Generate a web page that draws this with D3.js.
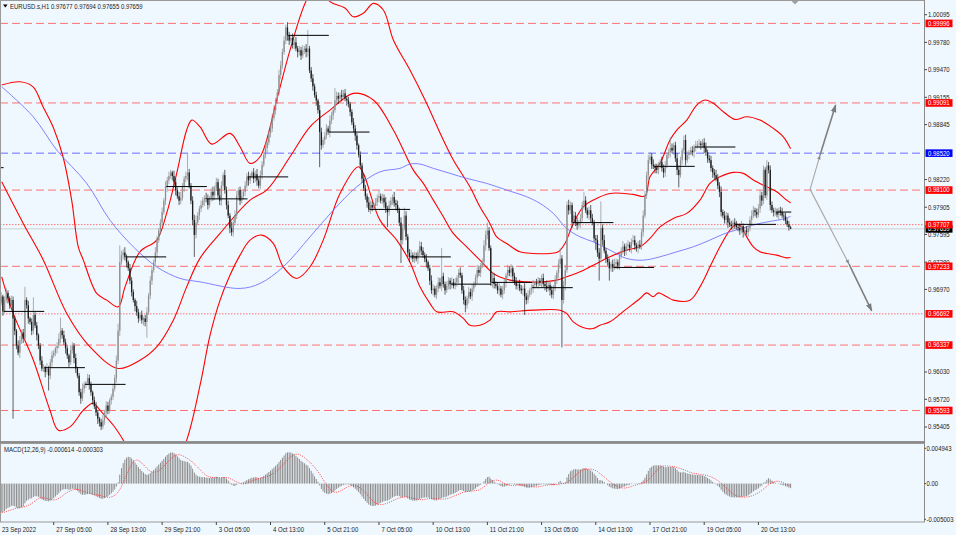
<!DOCTYPE html>
<html><head><meta charset="utf-8">
<script src="https://cdn.jsdelivr.net/npm/d3@7"></script>
<style>
html,body{margin:0;padding:0;background:#f0f8ff;}
svg{display:block;font-family:"Liberation Sans",Arial,sans-serif;}
</style></head><body>
<svg id="chart" width="956" height="535"></svg>
<script>
// ---------------- DATA ----------------
const symbol = "EURUSD.s,H1";
const firstOpen = 0.9680;
const prevDayOpen = 0.98355; // 23 Sep daily open
const close = [
0.9682,0.9689,0.9672,0.9685,0.9693,0.9687,0.9679,0.9685,0.9664,0.9650,0.9633,0.9625,0.9639,0.9648,0.9641,0.9685,0.9679,0.9664,0.9660,0.9650,0.9668,0.9656,0.9645,0.9633,
0.9616,0.9607,0.9608,0.9603,0.9607,0.9599,0.9614,0.9622,0.9625,0.9630,0.9633,0.9641,0.9650,0.9645,0.9637,0.9630,0.9622,0.9614,0.9628,0.9633,0.9619,0.9607,0.9599,0.9580,
0.9573,0.9584,0.9589,0.9591,0.9596,0.9589,0.9580,0.9571,0.9564,0.9557,0.9550,0.9546,0.9541,0.9548,0.9557,0.9565,0.9559,0.9571,0.9575,0.9584,0.9596,0.9616,0.9650,0.9728,
0.9736,0.9739,0.9734,0.9728,0.9721,0.9707,0.9694,0.9685,0.9678,0.9671,0.9664,0.9668,0.9662,0.9664,0.9660,0.9671,0.9690,0.9707,0.9719,0.9728,0.9739,0.9753,0.9764,0.9773,
0.9785,0.9798,0.9814,0.9821,0.9826,0.9830,0.9826,0.9819,0.9810,0.9803,0.9798,0.9801,0.9814,0.9823,0.9826,0.9830,0.9815,0.9798,0.9776,0.9759,0.9773,0.9781,0.9789,0.9793,
0.9798,0.9801,0.9800,0.9793,0.9801,0.9808,0.9804,0.9812,0.9819,0.9804,0.9798,0.9815,0.9827,0.9810,0.9793,0.9781,0.9767,0.9762,0.9773,0.9781,0.9804,0.9810,0.9798,0.9803,
0.9808,0.9815,0.9825,0.9821,0.9826,0.9830,0.9823,0.9828,0.9821,0.9815,0.9827,0.9839,0.9850,0.9858,0.9864,0.9875,0.9880,0.9892,0.9901,0.9912,0.9921,0.9941,0.9952,0.9967,
0.9980,0.9995,0.9986,0.9980,0.9983,0.9975,0.9978,0.9971,0.9967,0.9969,0.9963,0.9969,0.9971,0.9967,0.9971,0.9946,0.9937,0.9928,0.9918,0.9912,0.9901,0.9876,0.9861,0.9867,
0.9872,0.9880,0.9876,0.9889,0.9895,0.9901,0.9912,0.9917,0.9914,0.9918,0.9916,0.9920,0.9914,0.9912,0.9908,0.9899,0.9887,0.9880,0.9872,0.9861,0.9850,0.9838,0.9823,0.9812,
0.9803,0.9796,0.9788,0.9793,0.9790,0.9792,0.9796,0.9801,0.9803,0.9798,0.9801,0.9796,0.9789,0.9785,0.9793,0.9798,0.9802,0.9795,0.9793,0.9787,0.9773,0.9753,0.9767,0.9781,
0.9757,0.9739,0.9734,0.9736,0.9732,0.9735,0.9732,0.9739,0.9746,0.9741,0.9736,0.9732,0.9728,0.9721,0.9707,0.9696,0.9698,0.9691,0.9698,0.9705,0.9701,0.9712,0.9703,0.9696,
0.9701,0.9707,0.9703,0.9705,0.9701,0.9705,0.9710,0.9716,0.9713,0.9696,0.9685,0.9679,0.9687,0.9694,0.9689,0.9698,0.9703,0.9710,0.9719,0.9716,0.9724,0.9728,0.9747,0.9759,
0.9764,0.9744,0.9705,0.9710,0.9703,0.9701,0.9696,0.9698,0.9691,0.9696,0.9705,0.9713,0.9719,0.9716,0.9721,0.9712,0.9705,0.9701,0.9703,0.9698,0.9696,0.9698,0.9689,0.9685,
0.9691,0.9696,0.9699,0.9702,0.9704,0.9703,0.9707,0.9705,0.9710,0.9703,0.9701,0.9698,0.9702,0.9696,0.9691,0.9698,0.9707,0.9716,0.9726,0.9732,0.9685,0.9702,0.9719,0.9793,
0.9787,0.9793,0.9773,0.9781,0.9773,0.9770,0.9773,0.9778,0.9793,0.9798,0.9787,0.9782,0.9787,0.9778,0.9773,0.9755,0.9753,0.9739,0.9732,0.9767,0.9753,0.9741,0.9732,0.9728,
0.9721,0.9726,0.9722,0.9726,0.9728,0.9724,0.9735,0.9741,0.9746,0.9741,0.9746,0.9748,0.9744,0.9751,0.9753,0.9747,0.9744,0.9748,0.9746,0.9762,0.9781,0.9804,0.9827,0.9844,
0.9848,0.9839,0.9837,0.9835,0.9833,0.9838,0.9842,0.9835,0.9830,0.9838,0.9850,0.9853,0.9858,0.9855,0.9861,0.9846,0.9833,0.9827,0.9844,0.9855,0.9867,0.9844,0.9850,0.9853,
0.9855,0.9853,0.9859,0.9860,0.9862,0.9863,0.9861,0.9864,0.9858,0.9853,0.9846,0.9844,0.9835,0.9830,0.9827,0.9823,0.9815,0.9808,0.9785,0.9781,0.9776,0.9781,0.9773,0.9771,
0.9769,0.9773,0.9771,0.9768,0.9767,0.9764,0.9769,0.9762,0.9764,0.9762,0.9767,0.9776,0.9781,0.9787,0.9785,0.9782,0.9789,0.9804,0.9798,0.9833,0.9804,0.9838,0.9833,0.9793,
0.9787,0.9785,0.9785,0.9782,0.9787,0.9785,0.9781,0.9780,0.9775,0.9771,0.97677,0.97659
];
// upper / lower shadow lengths in pips
const hiWick = [
3,5,2,4,6,3,2,5,4,3,2,6,5,3,4,15,3,5,2,4,20,3,4,2,
3,5,4,2,6,3,4,5,3,2,4,6,15,3,5,4,3,2,6,4,3,5,2,3,
4,6,3,2,5,4,3,2,4,5,3,2,4,6,3,5,4,2,3,5,4,6,8,19,
5,4,6,3,2,5,4,3,2,6,4,3,5,2,4,6,3,5,4,3,6,5,3,4,
5,3,6,4,5,3,2,6,4,3,5,7,4,3,5,22,4,3,5,6,8,4,3,5,
4,3,6,5,2,4,6,3,5,4,8,5,3,6,4,5,3,7,4,6,5,3,4,6,
3,5,4,6,3,2,5,4,6,3,5,4,3,5,4,3,6,4,5,3,4,6,5,4,
5,3,6,4,3,5,4,6,3,5,4,6,3,5,21,3,4,5,3,4,2,6,5,3,
4,5,3,6,4,3,14,5,4,3,6,4,5,3,4,2,3,5,4,3,2,4,3,5,
4,3,6,5,4,3,5,4,7,3,5,4,6,3,5,4,3,6,4,5,3,6,4,9,
5,3,4,6,3,5,4,3,6,5,4,3,5,2,4,6,5,3,4,6,5,32,4,3,
5,4,3,6,4,5,3,4,6,3,5,4,3,6,4,5,3,4,6,5,3,4,6,5,
9,4,3,6,5,3,4,6,3,5,4,3,6,4,5,3,4,6,3,5,4,3,6,4,
5,3,4,6,3,5,4,3,4,5,3,6,4,3,5,4,6,3,5,12,4,5,6,4,
6,4,3,5,4,6,3,5,4,10,5,3,4,6,5,3,4,6,5,30,4,6,3,5,
4,3,5,6,4,3,5,4,6,3,4,5,3,4,6,5,3,4,5,4,6,5,4,6,
5,4,6,3,5,4,3,6,4,5,3,4,12,5,3,4,6,5,4,3,5,6,4,3,
4,5,3,6,4,5,3,4,5,6,3,4,5,3,4,6,5,4,6,3,5,4,3,5,
4,3,5,4,3,5,6,3,4,5,3,4,6,5,3,4,5,6,4,5,3,6,4,5,
4,3,5,4,3,4,5,3,4,3,4,1.7
];
const loWick = [
4,3,5,2,3,6,4,3,114,5,4,3,6,4,5,3,4,6,3,5,4,3,6,4,
5,3,4,6,3,17,4,5,3,4,6,3,5,4,3,6,4,5,3,4,6,5,3,4,
6,3,5,4,3,6,4,5,3,4,6,5,4,3,5,6,4,3,5,4,3,5,4,6,
3,5,4,6,3,4,5,3,6,4,5,3,4,6,5,18,3,4,5,3,4,6,3,5,
4,3,5,6,4,3,5,4,6,3,5,4,3,6,4,5,3,4,6,25,4,3,5,4,
3,6,4,5,3,4,6,5,3,4,5,6,3,4,5,3,6,4,5,3,4,6,5,3,
4,5,3,6,4,3,5,4,6,3,4,5,3,4,6,3,5,4,3,5,4,3,5,4,
3,4,6,5,3,4,5,3,6,4,5,3,4,6,5,3,4,5,3,6,4,40,5,3,
5,4,3,6,4,5,3,4,6,3,5,4,3,6,4,5,3,4,6,5,3,4,5,3,
4,6,3,5,4,3,6,4,5,3,4,6,5,17,4,3,5,4,6,3,4,26,5,3,
4,5,6,3,4,5,3,6,4,5,3,4,6,3,5,4,6,3,5,4,3,6,4,5,
3,4,6,5,3,4,5,6,3,4,5,8,4,6,3,5,4,3,6,4,5,3,4,6,
5,3,4,6,5,3,4,6,3,5,4,6,3,4,5,6,3,4,5,3,4,6,21,5,
4,3,5,6,4,3,5,4,6,3,5,4,3,6,4,5,3,4,6,5,54,4,6,3,
5,4,6,3,4,5,3,6,4,5,3,4,6,5,3,4,11,5,25,4,6,3,5,4,
14,4,5,3,6,4,5,3,4,6,5,3,4,6,3,5,4,6,3,4,5,3,4,6,
4,5,3,6,4,5,3,4,6,5,3,4,6,3,5,4,6,14,3,5,4,6,3,5,
3,4,6,5,3,4,5,3,6,4,5,3,4,6,5,3,4,6,5,3,4,5,6,3,
4,6,5,3,4,5,3,6,4,3,5,4,6,3,5,4,3,5,6,4,3,5,4,6,
3,5,4,3,6,4,3,5,4,3,4,0.4
];
const dayStartBars = [3,27,51,75,99,123,147,171,195,219,243,267,291,315,339,363,387,411,435,459];

// indicator lines: [bar index, price]
const upperBand = [[1.3,0.99295],[12.1,0.99332],[19.8,0.99275],[25.7,0.99048],[31.6,0.98820],[37.5,0.98479],[42.6,0.97986],[46.5,0.97455],[49.5,0.97303],[57.4,0.96924],[63.3,0.96848],[70.1,0.96772],[74.1,0.96999],[82.9,0.97398],[92.8,0.97531],[98.7,0.97838],[104.6,0.98290],[110.5,0.98783],[113.5,0.98896],[118.4,0.98820],[125.3,0.98623],[136.1,0.98745],[142,0.98593],[147.9,0.98404],[153.8,0.98479],[163.6,0.99124],[171.5,0.99693],[181.3,1.00262],[188,1.00433],[195.1,1.00243],[203.9,1.00171],[208.9,1.00072],[214.8,1.00111],[220.7,1.00224],[226.6,1.00148],[232.5,0.99807],[242.3,0.99465],[251.2,0.99124],[262,0.98669],[267.9,0.98441],[277.7,0.98137],[283.6,0.97910],[289.5,0.97721],[293.5,0.97568],[299.4,0.97493],[307.2,0.97398],[315.1,0.97379],[325,0.97379],[329.9,0.97398],[333.8,0.97493],[338.7,0.97721],[344.6,0.97910],[350.5,0.97986],[360.4,0.98062],[374.1,0.98051],[381,0.98032],[384,0.98251],[389.9,0.98404],[395.8,0.98669],[399.8,0.98783],[405.7,0.98896],[411.6,0.99067],[416.5,0.99124],[421.4,0.99087],[427.3,0.98991],[434.2,0.98904],[441.1,0.98934],[448.9,0.98896],[456.8,0.98802],[462.7,0.98706],[467,0.98570]];
const middleBand = [[1.3,0.98194],[14,0.97721],[25.9,0.97303],[39.7,0.96697],[53.4,0.96317],[70.1,0.96071],[82.9,0.96165],[92.8,0.96317],[102.6,0.96620],[110.5,0.96999],[118.4,0.97326],[130.2,0.97607],[147.9,0.97986],[157.7,0.98100],[171.5,0.98479],[183.3,0.98820],[195.1,0.99010],[208.9,0.99200],[220.7,0.99124],[232.5,0.98783],[244.3,0.98327],[250.2,0.98176],[256.1,0.97986],[262,0.97796],[267.9,0.97607],[275.8,0.97455],[283.6,0.97303],[291.5,0.97152],[301.4,0.97076],[311.2,0.97056],[321,0.97056],[328.9,0.97076],[334.8,0.97113],[342.7,0.97170],[350.5,0.97246],[360.4,0.97341],[370.2,0.97417],[378.1,0.97455],[384,0.97550],[389.9,0.97682],[397.8,0.97778],[405.7,0.97835],[413.5,0.97986],[419.4,0.98176],[425.3,0.98251],[433.2,0.98301],[439.1,0.98290],[445,0.98214],[452.9,0.98137],[458.8,0.98081],[464.7,0.97986],[467,0.97955]];
const lowerBand = [[1.3,0.97113],[8.1,0.96697],[20,0.96165],[29.8,0.95596],[34.7,0.95369],[41.6,0.95406],[49.5,0.95596],[55.4,0.95676],[59.3,0.95596],[67.2,0.95425],[73.1,0.95255],[82.9,0.94913],[97.7,0.94686],[110.5,0.95255],[118.4,0.95881],[124.3,0.96450],[130.2,0.96848],[136.1,0.97133],[142,0.97360],[147.9,0.97531],[154.8,0.97588],[161.6,0.97493],[167.5,0.97227],[175.4,0.97095],[183.3,0.97227],[191.1,0.97531],[201,0.98062],[211.8,0.98365],[214.8,0.98290],[224.6,0.97758],[234.5,0.97531],[242.3,0.97280],[248.2,0.96999],[254.1,0.96811],[258.1,0.96715],[267.9,0.96715],[273.8,0.96640],[277.7,0.96563],[283.6,0.96563],[289.5,0.96620],[293.5,0.96715],[301.4,0.96715],[315.1,0.96734],[330.9,0.96734],[334.8,0.96697],[338.7,0.96601],[346.6,0.96526],[350.5,0.96526],[354.5,0.96563],[360.4,0.96601],[369.2,0.96734],[378.1,0.96867],[382,0.96931],[385.9,0.96886],[388.9,0.96931],[393.9,0.96886],[397.8,0.96848],[407.6,0.96848],[413.5,0.96999],[419.4,0.97227],[425.3,0.97455],[431.2,0.97645],[435.2,0.97713],[438.1,0.97682],[441.1,0.97568],[445,0.97455],[448.9,0.97398],[452.9,0.97379],[458.8,0.97360],[464.7,0.97329],[467,0.97334]];
const maBlue = [[1.3,0.99275],[19.9,0.98934],[33.8,0.98555],[51.5,0.98176],[65.2,0.97758],[79,0.97455],[92.8,0.97227],[106.6,0.97095],[118.4,0.97056],[142,0.96981],[153.8,0.97038],[167.5,0.97227],[183.3,0.97568],[197.1,0.97872],[210.9,0.98137],[224.6,0.98308],[236.4,0.98347],[242.3,0.98396],[248.2,0.98396],[256.1,0.98347],[266,0.98290],[275.8,0.98233],[287.6,0.98176],[299.4,0.98100],[311.2,0.98024],[319.1,0.97948],[326.9,0.97835],[334.8,0.97664],[342.7,0.97568],[350.5,0.97511],[360.4,0.97417],[370.2,0.97322],[380,0.97303],[389.9,0.97341],[399.8,0.97398],[409.6,0.97455],[419.4,0.97531],[427.3,0.97599],[433.2,0.97637],[441.1,0.97682],[448.9,0.97721],[456.8,0.97750],[461.7,0.97766],[467,0.97800]];

const levelPrices = [0.99996,0.99091,0.98520,0.98100,0.97707,0.97233,0.96692,0.96337,0.95593];
const bidPrice = 0.97659;
const priceTicks = [1.00095,0.99780,0.99470,0.99155,0.98845,0.98220,0.97905,0.97595,0.97280,0.96970,0.96030,0.95720,0.95405];
const timeTickBars = [0,32,64,96,128,160,192,224,256,288,320,352,384,416,448];
const timeTickLabels = ["23 Sep 2022","27 Sep 05:00","28 Sep 13:00","29 Sep 21:00","3 Oct 05:00","4 Oct 13:00","5 Oct 21:00","7 Oct 05:00","10 Oct 13:00","11 Oct 21:00","13 Oct 05:00","14 Oct 13:00","17 Oct 21:00","19 Oct 05:00","20 Oct 13:00"];
const macdTicks = [0.004943,0,-0.005003];
const macdTickLabels = ["0.004943","0.00","-0.005003"];
const macdTitle = "MACD(12,26,9)";
const macdNow = -0.000614, signalNow = -0.000303;
const emaSeed = {fast:0.9715, slow:0.9757};
const arrowFrom = [478.5,0.98108];
const arrowUp = [[484.4,0.98498],[493.6,0.99067]];
const arrowDown = [[501.5,0.97258],[514.9,0.96726]];

// ---------------- DRAW ----------------
const W = 956, H = 535, plotR = 924, pTop = 0, pBot = 441, mTop = 444, mBot = 522;
const FS = 6.9, SX = 0.87;
const svg = d3.select("#chart");
const x = d3.scaleLinear().domain([0,467]).range([-0.5, -0.5+467*1.694]);
const y = d3.scaleLinear().domain([0.95405,1.00095]).range([427.0,14.7]);
const ym = d3.scaleLinear().domain([-0.005003,0.004943]).range([519.3,448.3]);

function txt(g, tx, ty, str, fill, dy){
  return g.append("text").attr("transform",`translate(${tx},${ty}) scale(${SX},1)`)
    .attr("dy",dy||0).attr("font-size",FS).attr("fill",fill||"#1a1a1a").text(str);
}

svg.append("rect").attr("width",W).attr("height",H).attr("fill","#f0f8ff");
const defs = svg.append("defs");
defs.append("clipPath").attr("id","cp").append("rect").attr("x",0).attr("y",pTop).attr("width",plotR).attr("height",pBot-pTop);
defs.append("clipPath").attr("id","cm").append("rect").attr("x",0).attr("y",mTop).attr("width",plotR).attr("height",mBot-mTop);
["a1","a2"].forEach((id,k)=>{
  defs.append("marker").attr("id",id).attr("viewBox","0 0 10 10").attr("refX",9).attr("refY",5)
    .attr("markerWidth",k?5:4.5).attr("markerHeight",k?5:4.5).attr("orient","auto")
    .append("path").attr("d","M0,1.5 L10,5 L0,8.5 Z").attr("fill",k?"#7a7a7a":"#8a8a8a");
});

const P = svg.append("g").attr("clip-path","url(#cp)");
const dotted = new Set([0.97707,0.96692]);
const blueLevel = 0.98520;
levelPrices.forEach(v=>{
  P.append("line").attr("x1",0).attr("x2",plotR).attr("y1",y(v)).attr("y2",y(v))
   .attr("stroke", v===blueLevel ? "#6b6bff" : "#ff7070").attr("stroke-width",1)
   .attr("stroke-dasharray", dotted.has(v) ? "1.5,1.5" : "8,4");
});
P.append("line").attr("x1",0).attr("x2",plotR).attr("y1",y(bidPrice)).attr("y2",y(bidPrice))
  .attr("stroke","#c9d0d6").attr("stroke-width",1);

const lineGen = d3.line().x(d=>x(d[0])).y(d=>y(d[1])).curve(d3.curveCatmullRom.alpha(0.5));
[upperBand,middleBand,lowerBand].forEach(b=>{
  P.append("path").attr("d",lineGen(b)).attr("fill","none").attr("stroke","#ff0000").attr("stroke-width",1.1);
});
P.append("path").attr("d",lineGen(maBlue)).attr("fill","none").attr("stroke","#7474ff").attr("stroke-width",0.9);

// candles
const bars = close.map((c,i)=>{
  const o = i ? close[i-1] : firstOpen;
  return {i,o,c,h:Math.max(o,c)+hiWick[i]/1e4,l:Math.min(o,c)-loWick[i]/1e4};
});
const cg = P.append("g");
cg.selectAll("line").data(bars).join("line")
  .attr("x1",d=>x(d.i)).attr("x2",d=>x(d.i)).attr("y1",d=>y(d.h)).attr("y2",d=>y(d.l))
  .attr("stroke",d=>d.c>=d.o?"#8e8e8e":"#1c1c1c").attr("stroke-width",0.7);
cg.selectAll("rect").data(bars).join("rect")
  .attr("x",d=>x(d.i)-0.65).attr("width",1.3)
  .attr("y",d=>y(Math.max(d.o,d.c)))
  .attr("height",d=>Math.max(0.8,Math.abs(y(d.o)-y(d.c))))
  .attr("fill",d=>d.c>=d.o?"#8e8e8e":"#1c1c1c");

// daily open segments
const segs = [{s:0,e:3,v:prevDayOpen}].concat(dayStartBars.map((s,k)=>({s,e:k<dayStartBars.length-1?dayStartBars[k+1]:close.length, v:bars[s].o})));
P.selectAll("line.seg").data(segs).join("line").attr("class","seg")
  .attr("x1",d=>x(d.s)-1).attr("x2",d=>x(d.e)-1).attr("y1",d=>y(d.v)).attr("y2",d=>y(d.v))
  .attr("stroke","#000").attr("stroke-width",1);

// projection arrows
[arrowUp,arrowDown].forEach(pts=>{
  let prev = arrowFrom;
  pts.forEach((p,k)=>{
    P.append("line").attr("x1",x(prev[0])).attr("y1",y(prev[1])).attr("x2",x(p[0])).attr("y2",y(p[1]))
      .attr("stroke",k?"#808080":"#a8a8a8").attr("stroke-width",k?1.6:1.1).attr("marker-end",`url(#a${k+1})`);
    prev = p;
  });
});

// chart shift marker
svg.append("path").attr("d","M791,0.5 L799,0.5 L795,4.5 Z").attr("fill","#a0a0a0");

// header
svg.append("path").attr("d","M3,4.6 L7.6,4.6 L5.3,7.6 Z").attr("fill","#000");
const last = bars[bars.length-1];
txt(svg, 10, 8.8, `${symbol} ${last.o.toFixed(5)} ${last.h.toFixed(5)} ${last.l.toFixed(5)} ${last.c.toFixed(5)}`);

// MACD panel
let ef = emaSeed.fast, es = emaSeed.slow;
const macd = close.map(c=>{ ef += (2/13)*(c-ef); es += (2/27)*(c-es); return ef-es; });
const signal = macd.map((m,i)=>d3.mean(macd.slice(Math.max(0,i-8),i+1)));
const M = svg.append("g").attr("clip-path","url(#cm)");
M.selectAll("line").data(macd).join("line")
  .attr("x1",(d,i)=>x(i)).attr("x2",(d,i)=>x(i)).attr("y1",ym(0)).attr("y2",d=>ym(d))
  .attr("stroke","#8a8a8a").attr("stroke-width",1);
M.append("path").attr("d",d3.line().x((d,i)=>x(i)).y(d=>ym(d))(signal))
  .attr("fill","none").attr("stroke","#ff3030").attr("stroke-width",0.9).attr("stroke-dasharray","1,1.3");
txt(svg, 4, 451.8, `${macdTitle} ${macdNow.toFixed(6)} ${signalNow.toFixed(6)}`);

// frames
svg.append("rect").attr("x",0.5).attr("y",0.5).attr("width",plotR).attr("height",pBot).attr("fill","none").attr("stroke","#9a9a9a");
svg.append("line").attr("x1",0).attr("x2",plotR+0.5).attr("y1",442.5).attr("y2",442.5).attr("stroke","#8a8a8a").attr("stroke-width",2);
svg.append("rect").attr("x",0.5).attr("y",mTop-0.5).attr("width",plotR).attr("height",mBot-mTop+0.5).attr("fill","none").attr("stroke","#9a9a9a");
svg.append("line").attr("x1",plotR+0.5).attr("x2",plotR+0.5).attr("y1",0).attr("y2",mBot).attr("stroke","#8a8a8a");

// price axis ticks
const ax = svg.append("g");
priceTicks.forEach(v=>{
  ax.append("line").attr("x1",plotR+0.5).attr("x2",plotR+3).attr("y1",y(v)).attr("y2",y(v)).attr("stroke","#444");
  txt(ax, plotR+4, y(v), v.toFixed(5), "#222", "0.35em");
});
macdTicks.forEach((v,k)=>{
  ax.append("line").attr("x1",plotR+0.5).attr("x2",plotR+2).attr("y1",ym(v)).attr("y2",ym(v)).attr("stroke","#444");
  txt(ax, plotR+2.5, ym(v), macdTickLabels[k], "#222", "0.35em");
});
// level labels
function tag(v,bg){
  const g = svg.append("g");
  g.append("rect").attr("x",plotR+1.5).attr("y",y(v)-3.8).attr("width",27).attr("height",7.6).attr("fill",bg);
  txt(g, plotR+4, y(v), v.toFixed(5), "#fff", "0.35em");
}
tag(bidPrice,"#000");
levelPrices.forEach(v=>tag(v, v===blueLevel ? "#0000ff" : "#ff0000"));

// time axis
const tg = svg.append("g");
timeTickBars.forEach((b,k)=>{
  tg.append("line").attr("x1",x(b)).attr("x2",x(b)).attr("y1",mBot).attr("y2",mBot+3).attr("stroke","#444");
  txt(tg, x(b)+2.5, 531.5, timeTickLabels[k], "#222");
});
</script>
</body></html>
